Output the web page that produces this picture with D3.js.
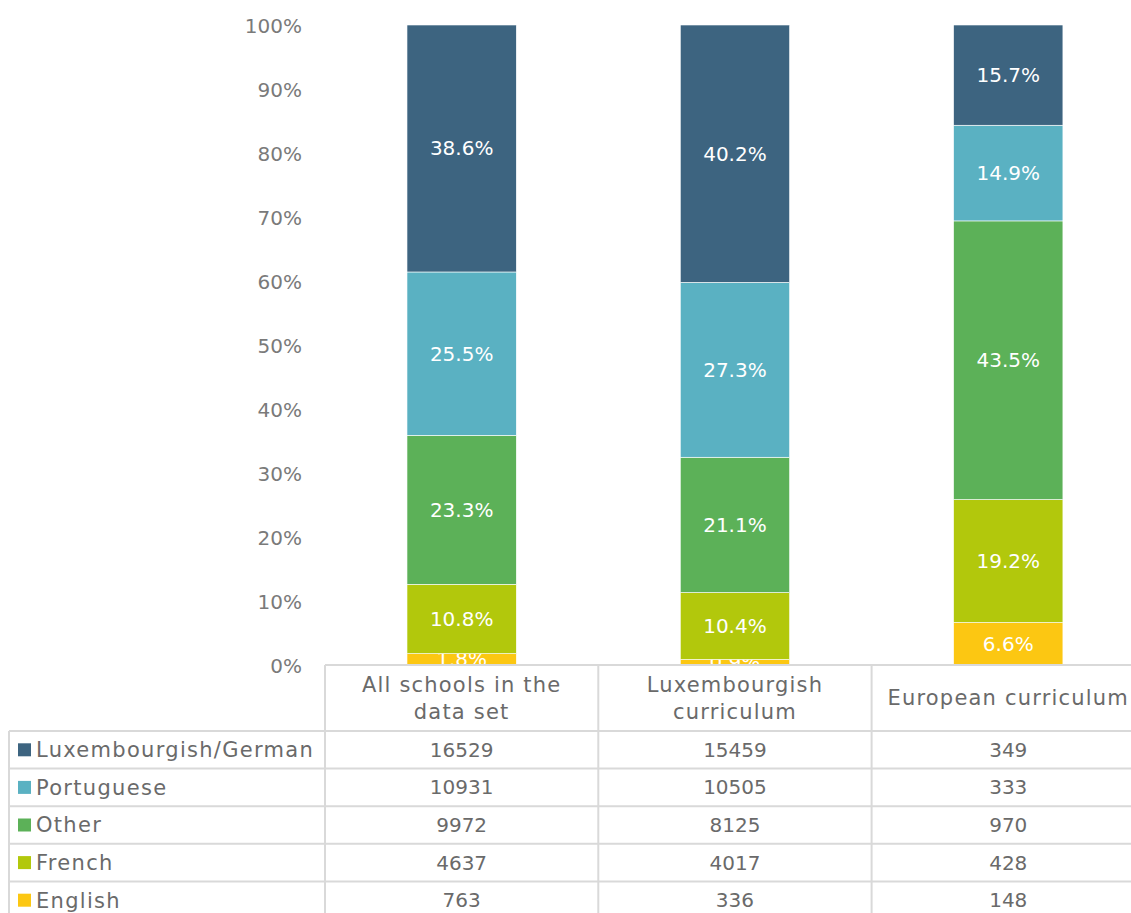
<!DOCTYPE html>
<html>
<head>
<meta charset="utf-8">
<script src="https://cdn.jsdelivr.net/npm/d3@7"></script>
<style>
  body { margin: 0; background: #fff; }
  svg { display: block; font-family: "DejaVu Sans", sans-serif; }
</style>
</head>
<body>
<div id="chart"></div>
<script>
// categories (table columns) and how the header wraps
var categories = ['All schools in the data set', 'Luxembourgish curriculum', 'European curriculum'];
var categoryLines = [['All schools in the', 'data set'], ['Luxembourgish', 'curriculum'], ['European curriculum']];

// series, top of the stack first (same order as the table rows)
var series = ['Luxembourgish/German', 'Portuguese', 'Other', 'French', 'English'];

// counts per category
var luxGerman = [16529, 15459, 349];
var portuguese = [10931, 10505, 333];
var other = [9972, 8125, 970];
var french = [4637, 4017, 428];
var english = [763, 336, 148];

var yTicks = [0, 0.1, 0.2, 0.3, 0.4, 0.5, 0.6, 0.7, 0.8, 0.9, 1];

var colors = {
    'Luxembourgish/German': '#3d6480',
    'Portuguese': '#5ab1c2',
    'Other': '#5cb158',
    'French': '#b2c80c',
    'English': '#fcc712'
};

var counts = {
    'Luxembourgish/German': luxGerman,
    'Portuguese': portuguese,
    'Other': other,
    'French': french,
    'English': english
};

// one row per category for d3.stack
var rows = categories.map(function(c, i){
    var row = {category: c};
    series.forEach(function(s){ row[s] = counts[s][i]; });
    return row;
});

var width = 1131, height = 913;
var plotTop = 25, plotBottom = 665;
var tableLeft = 9, colLeft = 325, colWidth = 273.3;
var headerBottom = 731, rowHeight = 37.6;
var gridColor = '#d9d9d9', textColor = '#6a6a6a', axisColor = '#7a7a7a';

var svg = d3.select('#chart').append('svg')
    .attr('width', width)
    .attr('height', height);

var x = d3.scaleBand()
    .domain(categories)
    .range([colLeft, colLeft + colWidth * categories.length]);

var y = d3.scaleLinear()
    .domain([0, 1])
    .range([plotBottom, plotTop]);

// bottom of the stack is English, so reverse the keys
var stack = d3.stack()
    .keys(series.slice().reverse())
    .offset(d3.stackOffsetExpand);

var layers = stack(rows);

var barWidth = x.bandwidth() * 0.4;

// y axis labels
var yAxis = d3.axisLeft(y)
    .tickValues(yTicks)
    .tickFormat(d3.format('.0%'))
    .tickSize(0)
    .tickPadding(0);

var gAxis = svg.append('g')
    .attr('transform', 'translate(302,0)')
    .call(yAxis);
gAxis.select('.domain').remove();
gAxis.selectAll('text')
    .attr('fill', axisColor)
    .style('font-size', '20px')
    .style('font-family', '"DejaVu Sans", sans-serif')
    .attr('dy', '0.35em');

// bars
var gLayers = svg.append('g')
    .selectAll('g')
    .data(layers)
    .enter().append('g')
        .attr('fill', function(d){ return colors[d.key]; });

gLayers.selectAll('rect')
    .data(function(d){ return d; })
    .enter().append('rect')
        .attr('x', function(d){ return x(d.data.category) + (x.bandwidth() - barWidth) / 2; })
        .attr('width', barWidth)
        .attr('y', function(d){ return y(d[1]); })
        .attr('height', function(d){ return y(d[0]) - y(d[1]); })
        .attr('stroke', '#fff')
        .attr('stroke-width', 0.6);

// data labels
gLayers.selectAll('text')
    .data(function(d){ return d; })
    .enter().append('text')
        .attr('x', function(d){ return x(d.data.category) + x.bandwidth() / 2; })
        .attr('y', function(d){ return (y(d[0]) + y(d[1])) / 2; })
        .attr('dy', '0.35em')
        .attr('text-anchor', 'middle')
        .attr('fill', '#fff')
        .style('font-size', '20px')
        .text(function(d){ return d3.format('.1%')(d[1] - d[0]); });

// data table
var table = svg.append('g');

// header cells (white, covers labels that spill below the axis)
table.append('rect')
    .attr('x', colLeft)
    .attr('y', plotBottom)
    .attr('width', width - colLeft)
    .attr('height', height - plotBottom)
    .attr('fill', '#fff');

categories.forEach(function(c, i){
    var lines = categoryLines[i];
    var cx = x(c) + x.bandwidth() / 2;
    var cy = (plotBottom + headerBottom) / 2;
    var lineH = 27;
    lines.forEach(function(line, j){
        table.append('text')
            .attr('x', cx)
            .attr('y', cy + (j - (lines.length - 1) / 2) * lineH)
            .attr('dy', '0.35em')
            .attr('text-anchor', 'middle')
            .attr('fill', textColor)
            .style('font-size', '21px')
            .style('letter-spacing', '1.2px')
            .text(line);
    });
});

// table rows
series.forEach(function(s, r){
    var top = headerBottom + r * rowHeight;
    var cy = top + rowHeight / 2;

    // legend key
    table.append('rect')
        .attr('x', 18)
        .attr('y', cy - 6.5)
        .attr('width', 13)
        .attr('height', 13)
        .attr('fill', colors[s]);

    table.append('text')
        .attr('x', 36)
        .attr('y', cy)
        .attr('dy', '0.35em')
        .attr('fill', textColor)
        .style('font-size', '21px')
        .style('letter-spacing', '1.3px')
        .text(s);

    categories.forEach(function(c, i){
        table.append('text')
            .attr('x', x(c) + x.bandwidth() / 2)
            .attr('y', cy)
            .attr('dy', '0.35em')
            .attr('text-anchor', 'middle')
            .attr('fill', textColor)
            .style('font-size', '20px')
            .text(counts[s][i]);
    });
});

// grid lines of the table
var hLines = [plotBottom];
for(var r = 0; r <= series.length; r++){
    hLines.push(headerBottom + r * rowHeight);
}

table.selectAll('line.h')
    .data(hLines)
    .enter().append('line')
        .attr('class', 'h')
        .attr('x1', function(d, i){ return i == 0 ? colLeft : tableLeft; })
        .attr('x2', width)
        .attr('y1', function(d){ return d; })
        .attr('y2', function(d){ return d; })
        .attr('stroke', gridColor)
        .attr('stroke-width', 2);

var vLines = [tableLeft].concat(categories.map(function(c){ return x(c); }));
vLines.push(x(categories[categories.length - 1]) + x.bandwidth());

table.selectAll('line.v')
    .data(vLines)
    .enter().append('line')
        .attr('class', 'v')
        .attr('x1', function(d){ return d; })
        .attr('x2', function(d){ return d; })
        .attr('y1', function(d, i){ return i == 0 ? headerBottom : plotBottom; })
        .attr('y2', height)
        .attr('stroke', gridColor)
        .attr('stroke-width', 2);
</script>
</body>
</html>
